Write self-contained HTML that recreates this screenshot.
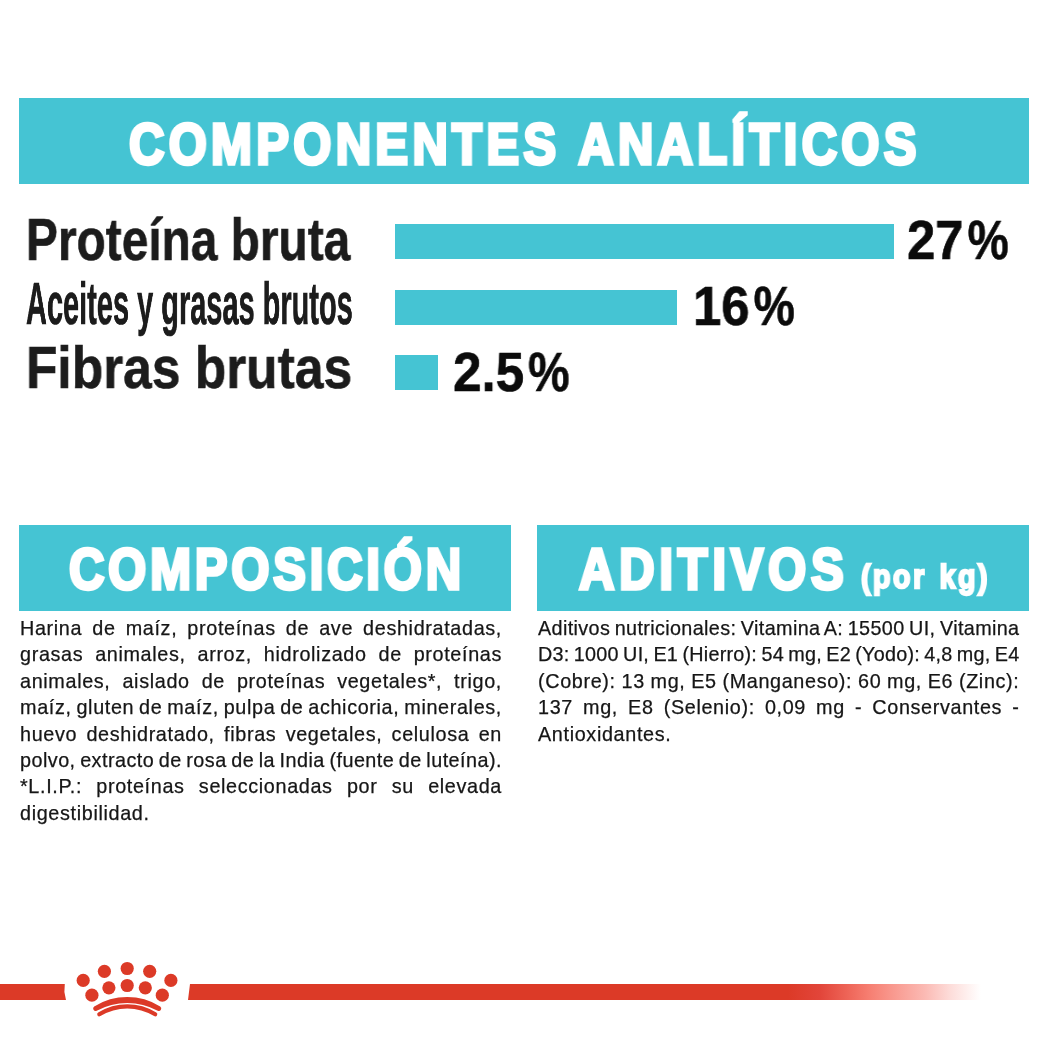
<!DOCTYPE html>
<html lang="es">
<head>
<meta charset="utf-8">
<title>Componentes analíticos</title>
<style>
html,body{margin:0;padding:0;background:#fff;}
body{width:1049px;height:1049px;position:relative;overflow:hidden;font-family:"Liberation Sans",Arial,sans-serif;}
.box{position:absolute;background:#45c4d3;}
.t{position:absolute;white-space:nowrap;line-height:1;transform-origin:0 0;font-weight:bold;will-change:transform;}
.hd{color:#fff;}
.lb{color:#1c1c1c;}
.nm{color:#0b0b0b;}
.pc{display:inline-block;transform:scaleX(0.91);transform-origin:100% 50%;}
.bar{position:absolute;background:#45c4d3;}
.txt{position:absolute;color:#161616;font-size:19.8px;line-height:26.4px;transform-origin:0 0;-webkit-text-stroke:0.25px #161616;will-change:transform;}
.ln{display:block;text-align:justify;text-align-last:justify;white-space:nowrap;word-spacing:-1.5px;}
.ln.last{text-align-last:left;}
</style>
</head>
<body>
<div class="box" style="left:19px;top:98px;width:1010px;height:86px;"></div>
<div class="t hd" style="left:128.6px;top:115.5px;font-size:57.6px;transform:scaleX(0.85);-webkit-text-stroke:3.6px currentColor;letter-spacing:5.116px;word-spacing:2px;">COMPONENTES ANALÍTICOS</div>

<div class="t lb" style="left:25.8px;top:211px;font-size:58.7px;transform:scaleX(0.815);-webkit-text-stroke:0.6px currentColor;">Proteína bruta</div>
<div class="t lb" style="left:25.8px;top:275px;font-size:58.7px;transform:scaleX(0.4935);-webkit-text-stroke:0.7px currentColor;">Aceites y grasas brutos</div>
<div class="t lb" style="left:26.4px;top:339px;font-size:58.7px;transform:scaleX(0.877);-webkit-text-stroke:0.6px currentColor;">Fibras brutas</div>

<div class="bar" style="left:395px;top:224px;width:499px;height:35px;"></div>
<div class="bar" style="left:395px;top:290px;width:282px;height:35px;"></div>
<div class="bar" style="left:395px;top:355px;width:43px;height:35px;"></div>

<div class="t nm" style="left:906.6px;top:213.0px;font-size:55px;transform:scaleX(0.9246);-webkit-text-stroke:0.6px currentColor;">27<span class="pc">%</span></div>
<div class="t nm" style="left:692.6px;top:278.5px;font-size:55px;transform:scaleX(0.9256);-webkit-text-stroke:0.6px currentColor;">16<span class="pc">%</span></div>
<div class="t nm" style="left:453px;top:345.0px;font-size:55px;transform:scaleX(0.9324);-webkit-text-stroke:0.6px currentColor;">2.5<span class="pc">%</span></div>

<div class="box" style="left:19px;top:525px;width:492px;height:86px;"></div>
<div class="t hd" style="left:69px;top:540.5px;font-size:57.6px;transform:scaleX(0.85);-webkit-text-stroke:3.6px currentColor;letter-spacing:4.525px;">COMPOSICIÓN</div>

<div class="box" style="left:537px;top:525px;width:492px;height:86px;"></div>
<div class="t hd" style="left:579.0px;top:540.5px;font-size:57.6px;transform:scaleX(0.85);-webkit-text-stroke:3.6px currentColor;letter-spacing:5.633px;word-spacing:2px;">ADITIVOS</div>
<div class="t hd" style="left:861px;top:559.0px;font-size:34px;transform:scaleX(0.84);-webkit-text-stroke:2.4px currentColor;letter-spacing:3.017px;word-spacing:3px;">(por kg)</div>

<div class="txt" style="left:20px;top:615.2px;width:482px;">
<span class="ln" style="letter-spacing:0.650px">Harina de maíz, proteínas de ave deshidratadas,</span>
<span class="ln" style="letter-spacing:0.650px">grasas animales, arroz, hidrolizado de proteínas</span>
<span class="ln" style="letter-spacing:0.650px">animales, aislado de proteínas vegetales*, trigo,</span>
<span class="ln" style="letter-spacing:0.650px">maíz, gluten de maíz, pulpa de achicoria, minerales,</span>
<span class="ln" style="letter-spacing:0.650px">huevo deshidratado, fibras vegetales, celulosa en</span>
<span class="ln" style="letter-spacing:0.466px">polvo, extracto de rosa de la India (fuente de luteína).</span>
<span class="ln" style="letter-spacing:0.650px">*L.I.P.: proteínas seleccionadas por su elevada</span>
<span class="ln last" style="letter-spacing:0.650px">digestibilidad.</span>
</div>

<div class="txt" style="left:538px;top:615.2px;width:481.5px;">
<span class="ln" style="letter-spacing:0.364px">Aditivos nutricionales: Vitamina A: 15500 UI, Vitamina</span>
<span class="ln" style="letter-spacing:0.238px">D3: 1000 UI, E1 (Hierro): 54 mg, E2 (Yodo): 4,8 mg, E4</span>
<span class="ln" style="letter-spacing:0.650px">(Cobre): 13 mg, E5 (Manganeso): 60 mg, E6 (Zinc):</span>
<span class="ln" style="letter-spacing:0.650px">137 mg, E8 (Selenio): 0,09 mg - Conservantes -</span>
<span class="ln last" style="letter-spacing:0.650px">Antioxidantes.</span>
</div>

<div style="position:absolute;left:0;top:984px;width:66px;height:16px;background:#dc3a27;clip-path:polygon(0 0,64.8px 0,64.4px 50%,66px 100%,0 100%);"></div>
<div style="position:absolute;left:188px;top:984px;width:795px;height:16px;clip-path:polygon(2px 0,100% 0,100% 100%,0 100%);background:linear-gradient(to right,#dc3a27 0,#dc3a27 600px,#e2453a 632px,#ee6558 660px,#f67d70 680px,#f99b91 707px,#fbbab4 737px,#fddcd9 762px,#fff 793px);"></div>
<svg style="position:absolute;left:0;top:940px;" width="260" height="90" viewBox="0 940 260 90">
<g fill="#dc3a27">
<circle cx="83.2" cy="980.4" r="6.6"/>
<circle cx="104.4" cy="971.3" r="6.6"/>
<circle cx="127.2" cy="968.5" r="6.6"/>
<circle cx="149.7" cy="971.3" r="6.6"/>
<circle cx="170.9" cy="980.4" r="6.6"/>
<circle cx="91.9" cy="995.2" r="6.6"/>
<circle cx="108.9" cy="987.8" r="6.6"/>
<circle cx="127.2" cy="985.5" r="6.6"/>
<circle cx="145.3" cy="987.8" r="6.6"/>
<circle cx="162.3" cy="995.2" r="6.6"/>
</g>
<g fill="none" stroke="#dc3a27" stroke-linecap="round">
<path d="M94.2 1006.4 A62.6 62.6 0 0 1 160.2 1006.4 A2.5 2.5 0 0 1 157.7 1010.7 A63.9 63.9 0 0 0 96.7 1010.7 A2.5 2.5 0 0 1 94.2 1006.4 Z" fill="#dc3a27" stroke="none"/>
<path d="M99.3 1014.3 A53 53 0 0 1 155.2 1014.3" stroke-width="4.2"/>
</g>
</svg>
</body>
</html>
